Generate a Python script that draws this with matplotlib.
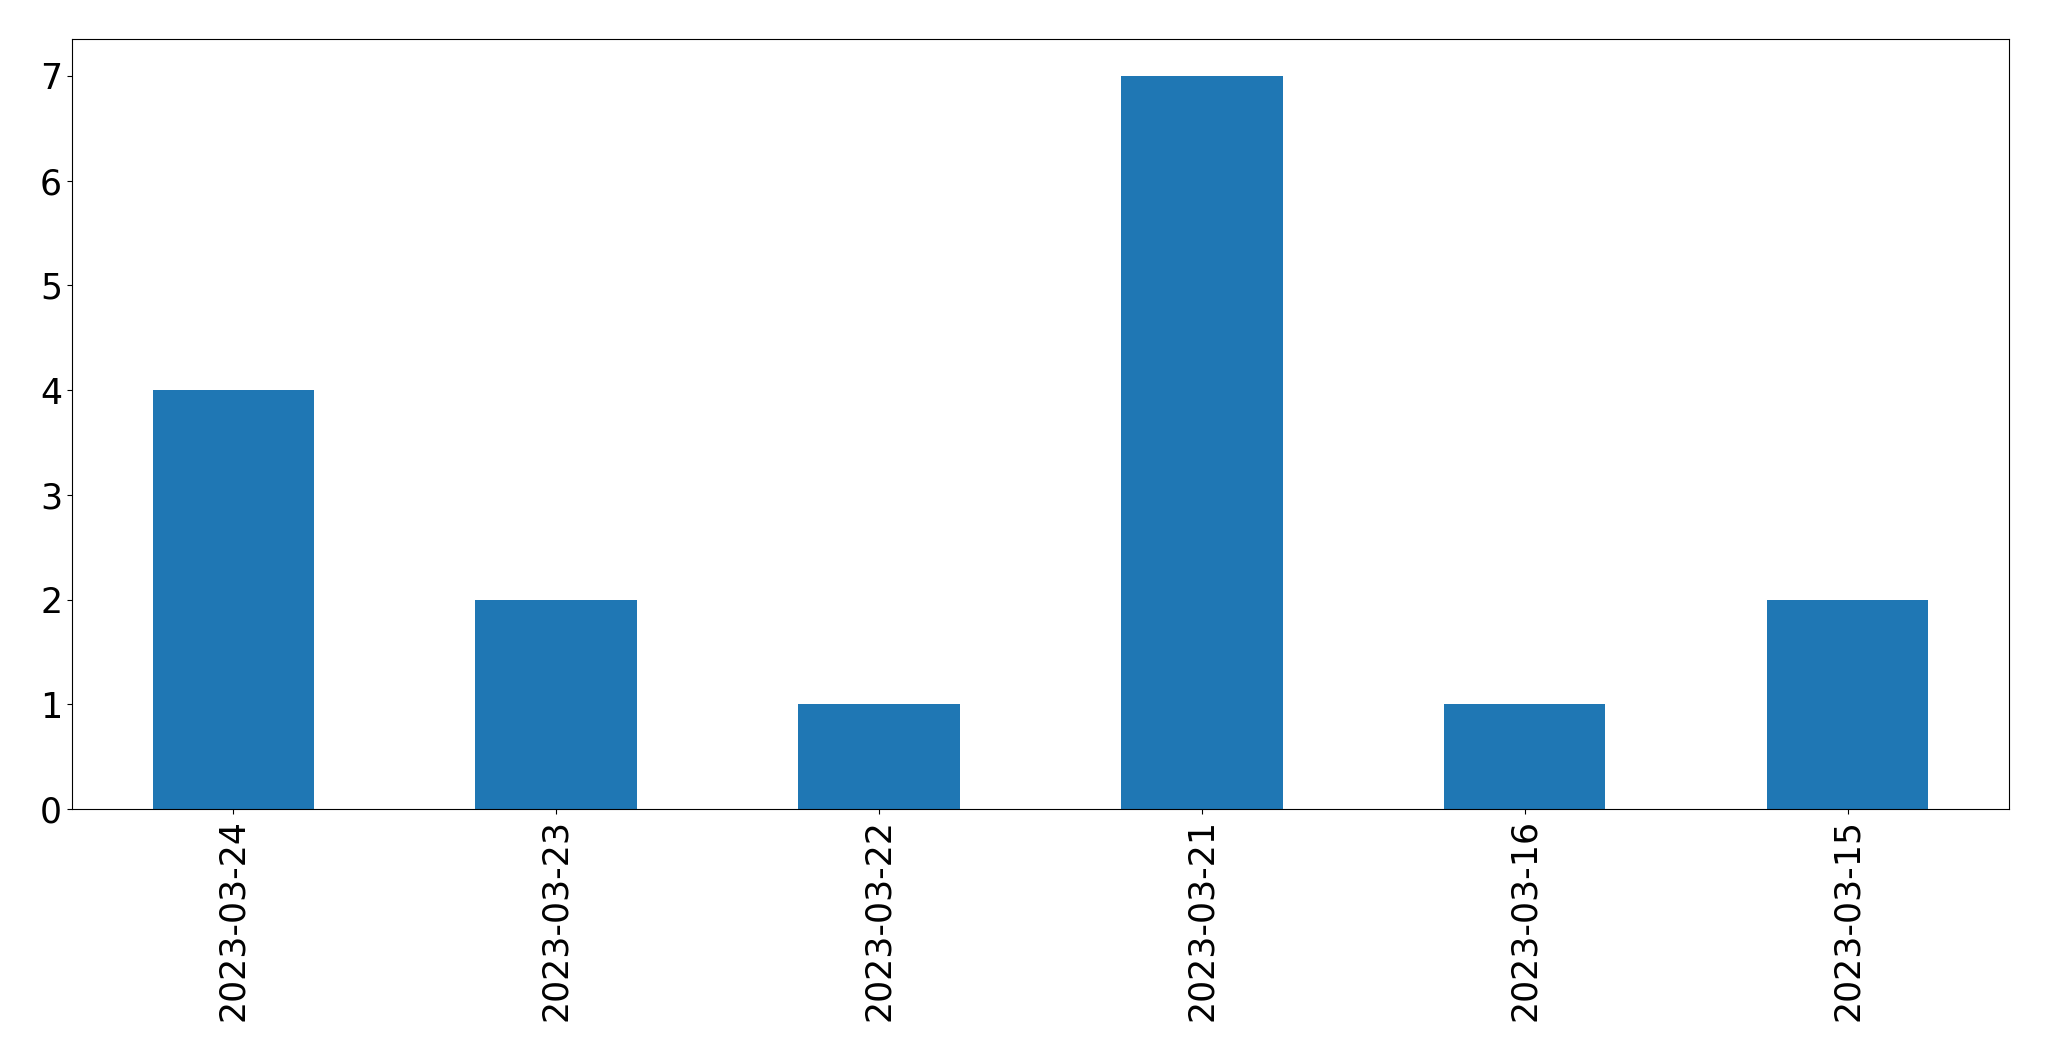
import matplotlib

matplotlib.use("Agg")
import matplotlib.pyplot as plt
import pandas as pd

dates = ["2023-03-24", "2023-03-23", "2023-03-22", "2023-03-21", "2023-03-16", "2023-03-15"]
counts = [4, 2, 1, 7, 1, 2]

series = pd.Series(counts, index=dates)

fig, ax = plt.subplots(figsize=(20.49, 10.61), dpi=100)
series.plot(kind="bar", ax=ax, color="#1f77b4")
ax.tick_params(axis="both", labelsize=25)
ax.set_xticklabels(dates, rotation=90)
fig.subplots_adjust(left=0.0351, right=0.9805, top=0.963, bottom=0.2375)
fig.savefig("out.png")
